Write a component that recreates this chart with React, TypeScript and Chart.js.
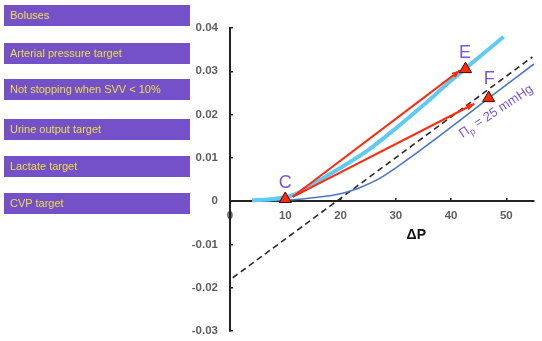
import React, { useEffect, useRef } from 'react';
import { Chart, registerables } from 'chart.js';

Chart.register(...registerables);

// ---- data ----
const sideLabels = [
  'Boluses',
  'Arterial pressure target',
  'Not stopping when SVV < 10%',
  'Urine output target',
  'Lactate target',
  'CVP target',
];

const xTickValues = [0, 10, 20, 30, 40, 50];
const yTickValues = [-0.03, -0.02, -0.01, 0, 0.01, 0.02, 0.03, 0.04];

const lightBlueX = [4, 7, 10, 12, 15, 20, 25, 30, 35, 39.7, 49.5];
const lightBlueY = [0.0002, 0.0004, 0.0009, 0.0017, 0.0039, 0.0077, 0.0118, 0.0168, 0.0222, 0.0275, 0.038];

const darkBlueX = [4, 10, 15, 20, 24, 27, 30, 35, 40, 46.8, 55];
const darkBlueY = [0.0001, 0.0002, 0.0008, 0.0017, 0.0034, 0.0052, 0.0077, 0.0123, 0.0171, 0.0238, 0.0317];

const dashedX = [0.5, 54.7];
const dashedY = [-0.0177, 0.0333];

const upperArrowX = [11.35, 41.6];
const upperArrowY = [0.001, 0.0302];
const lowerArrowX = [11.35, 44.2];
const lowerArrowY = [0.001, 0.0225];

const pointNames = ['C', 'E', 'F'];
const pointX = [10, 42.6, 46.8];
const pointY = [0.0005, 0.0305, 0.0238];
const pointLabelX = [10, 42.5, 46.9];
const pointLabelY = [0.0042, 0.0343, 0.0281];

const curveLabelX = [48.1];
const curveLabelY = [0.0208];
const axisTitleX = [33.7];
const axisTitleY = [-0.0079];

// ---- layout constants ----
const boxTops = [5, 43, 79, 119, 156, 193];
const PURPLE = '#7451C9';
const LABEL_PURPLE = '#7A58D4';

const zip = (xs: number[], ys: number[]) => xs.map((v, i) => ({ x: v, y: ys[i] }));

const annotPlugin = {
  id: 'annot',
  afterDatasetsDraw(chart: any) {
    const { ctx } = chart;
    const xs = chart.scales.x;
    const ys = chart.scales.y;
    const px = (v: number) => xs.getPixelForValue(v);
    const py = (v: number) => ys.getPixelForValue(v);
    ctx.save();
    [[upperArrowX, upperArrowY], [lowerArrowX, lowerArrowY]].forEach(([ax, ay]) => {
      const x1 = px(ax[0]), y1 = py(ay[0]);
      const x2 = px(ax[1]), y2 = py(ay[1]);
      const ang = Math.atan2(y2 - y1, x2 - x1);
      const L = 8, W = 3.2;
      ctx.fillStyle = '#FF2A0A';
      ctx.beginPath();
      ctx.moveTo(x2, y2);
      ctx.lineTo(x2 - L * Math.cos(ang) + W * Math.sin(ang), y2 - L * Math.sin(ang) - W * Math.cos(ang));
      ctx.lineTo(x2 - L * Math.cos(ang) - W * Math.sin(ang), y2 - L * Math.sin(ang) + W * Math.cos(ang));
      ctx.closePath();
      ctx.fill();
    });
    ctx.restore();
  },
  afterDraw(chart: any) {
    const { ctx } = chart;
    const xs = chart.scales.x;
    const ys = chart.scales.y;
    const px = (v: number) => xs.getPixelForValue(v);
    const py = (v: number) => ys.getPixelForValue(v);
    ctx.save();
    ctx.fillStyle = LABEL_PURPLE;
    ctx.font = '18px Arial, "Liberation Sans", sans-serif';
    ctx.textAlign = 'center';
    ctx.textBaseline = 'middle';
    pointNames.forEach((n, i) => {
      ctx.fillText(n, px(pointLabelX[i]), py(pointLabelY[i]));
    });
    ctx.save();
    ctx.translate(px(curveLabelX[0]), py(curveLabelY[0]));
    ctx.rotate(-33.5 * Math.PI / 180);
    ctx.fillStyle = LABEL_PURPLE;
    ctx.textBaseline = 'alphabetic';
    ctx.textAlign = 'left';
    const big = '13px Arial, "Liberation Sans", sans-serif';
    const small = '9px Arial, "Liberation Sans", sans-serif';
    ctx.font = big;
    const w1 = ctx.measureText('Π').width;
    const w3 = ctx.measureText(' = 25 mmHg').width;
    ctx.font = small;
    const w2 = ctx.measureText('p').width;
    const total = w1 + w2 + w3;
    let cx = -total / 2;
    const base = 4;
    ctx.font = big;
    ctx.fillText('Π', cx, base);
    cx += w1;
    ctx.font = small;
    ctx.fillText('p', cx, base + 3);
    cx += w2;
    ctx.font = big;
    ctx.fillText(' = 25 mmHg', cx, base);
    ctx.restore();
    ctx.fillStyle = '#111';
    ctx.font = 'bold 14px Arial, "Liberation Sans", sans-serif';
    ctx.textAlign = 'center';
    ctx.textBaseline = 'middle';
    ctx.fillText('ΔP', px(axisTitleX[0]), py(axisTitleY[0]));
    ctx.restore();
  },
};

export default function App() {
  const canvasRef = useRef<HTMLCanvasElement | null>(null);

  useEffect(() => {
    if (!canvasRef.current) return;
    const tickFont = { family: 'Arial, "Liberation Sans", sans-serif', size: 11.5, weight: 'bold' as const };
    const chart = new Chart(canvasRef.current, {
      type: 'scatter',
      data: {
        datasets: [
          {
            label: 'points',
            data: zip(pointX, pointY),
            showLine: false,
            pointStyle: 'triangle',
            pointRadius: 7,
            backgroundColor: '#FF2A0A',
            borderColor: '#3A0A00',
            borderWidth: 1,
          },
          {
            label: 'upper arrow',
            data: zip(upperArrowX, upperArrowY),
            showLine: true,
            borderColor: '#FF2A0A',
            borderWidth: 2,
            pointRadius: 0,
          },
          {
            label: 'lower arrow',
            data: zip(lowerArrowX, lowerArrowY),
            showLine: true,
            borderColor: '#FF2A0A',
            borderWidth: 2,
            pointRadius: 0,
          },
          {
            label: 'light blue',
            data: zip(lightBlueX, lightBlueY),
            showLine: true,
            borderColor: '#5FCBF4',
            borderWidth: 4,
            pointRadius: 0,
            cubicInterpolationMode: 'monotone',
          },
          {
            label: 'dark blue',
            data: zip(darkBlueX, darkBlueY),
            showLine: true,
            borderColor: '#4A76C8',
            borderWidth: 1.6,
            pointRadius: 0,
            cubicInterpolationMode: 'monotone',
          },
          {
            label: 'dashed',
            data: zip(dashedX, dashedY),
            showLine: true,
            borderColor: '#2A2A2A',
            borderWidth: 1.6,
            borderDash: [6, 4],
            pointRadius: 0,
          },
        ],
      },
      options: {
        animation: false,
        responsive: true,
        maintainAspectRatio: false,
        layout: { padding: { left: 180, right: 6, top: 28, bottom: 10 } },
        plugins: {
          legend: { display: false },
          tooltip: { enabled: false },
        },
        scales: {
          x: {
            type: 'linear',
            min: 0,
            max: 55,
            position: { y: 0 } as any,
            afterFit: (s: any) => { s.height = 0; s.paddingLeft = 0; s.paddingRight = 0; },
            afterBuildTicks: (s: any) => { s.ticks = xTickValues.map((v) => ({ value: v })); },
            border: { display: true, color: '#222', width: 2 },
            grid: { drawOnChartArea: false, drawTicks: true, tickLength: -4, color: '#222', lineWidth: 1.5 },
            ticks: {
              color: '#5E5E5E',
              font: tickFont,
              padding: 12,
              maxRotation: 0,
              autoSkip: false,
              callback: (v: any) => String(v),
            },
          },
          y: {
            type: 'linear',
            min: -0.03,
            max: 0.04,
            position: 'left',
            afterFit: (s: any) => { s.width = 50; s.paddingTop = 0; s.paddingBottom = 0; },
            afterBuildTicks: (s: any) => { s.ticks = yTickValues.map((v) => ({ value: v })); },
            border: { display: true, color: '#222', width: 2 },
            grid: { drawOnChartArea: false, drawTicks: true, tickLength: -3, color: '#222', lineWidth: 1.5 },
            ticks: {
              color: '#5E5E5E',
              font: tickFont,
              padding: 15,
              callback: (v: any) => (Math.abs(v) < 1e-9 ? '0' : Number(v).toFixed(2)),
            },
          },
        },
      },
      plugins: [annotPlugin],
    });
    return () => chart.destroy();
  }, []);

  return (
    <div style={{ position: 'fixed', left: 0, top: 0, width: 542, height: 341, background: '#fff' }}>
      <canvas ref={canvasRef} />
      {sideLabels.map((t, i) => (
        <div
          key={t}
          style={{
            position: 'absolute',
            left: 4,
            top: boxTops[i],
            width: 186,
            height: 21,
            background: PURPLE,
            color: '#ECDF45',
            fontFamily: 'Arial, "Liberation Sans", sans-serif',
            fontSize: 11,
            lineHeight: '21px',
            paddingLeft: 6,
            boxSizing: 'border-box',
            whiteSpace: 'nowrap',
          }}
        >
          {t}
        </div>
      ))}
    </div>
  );
}
